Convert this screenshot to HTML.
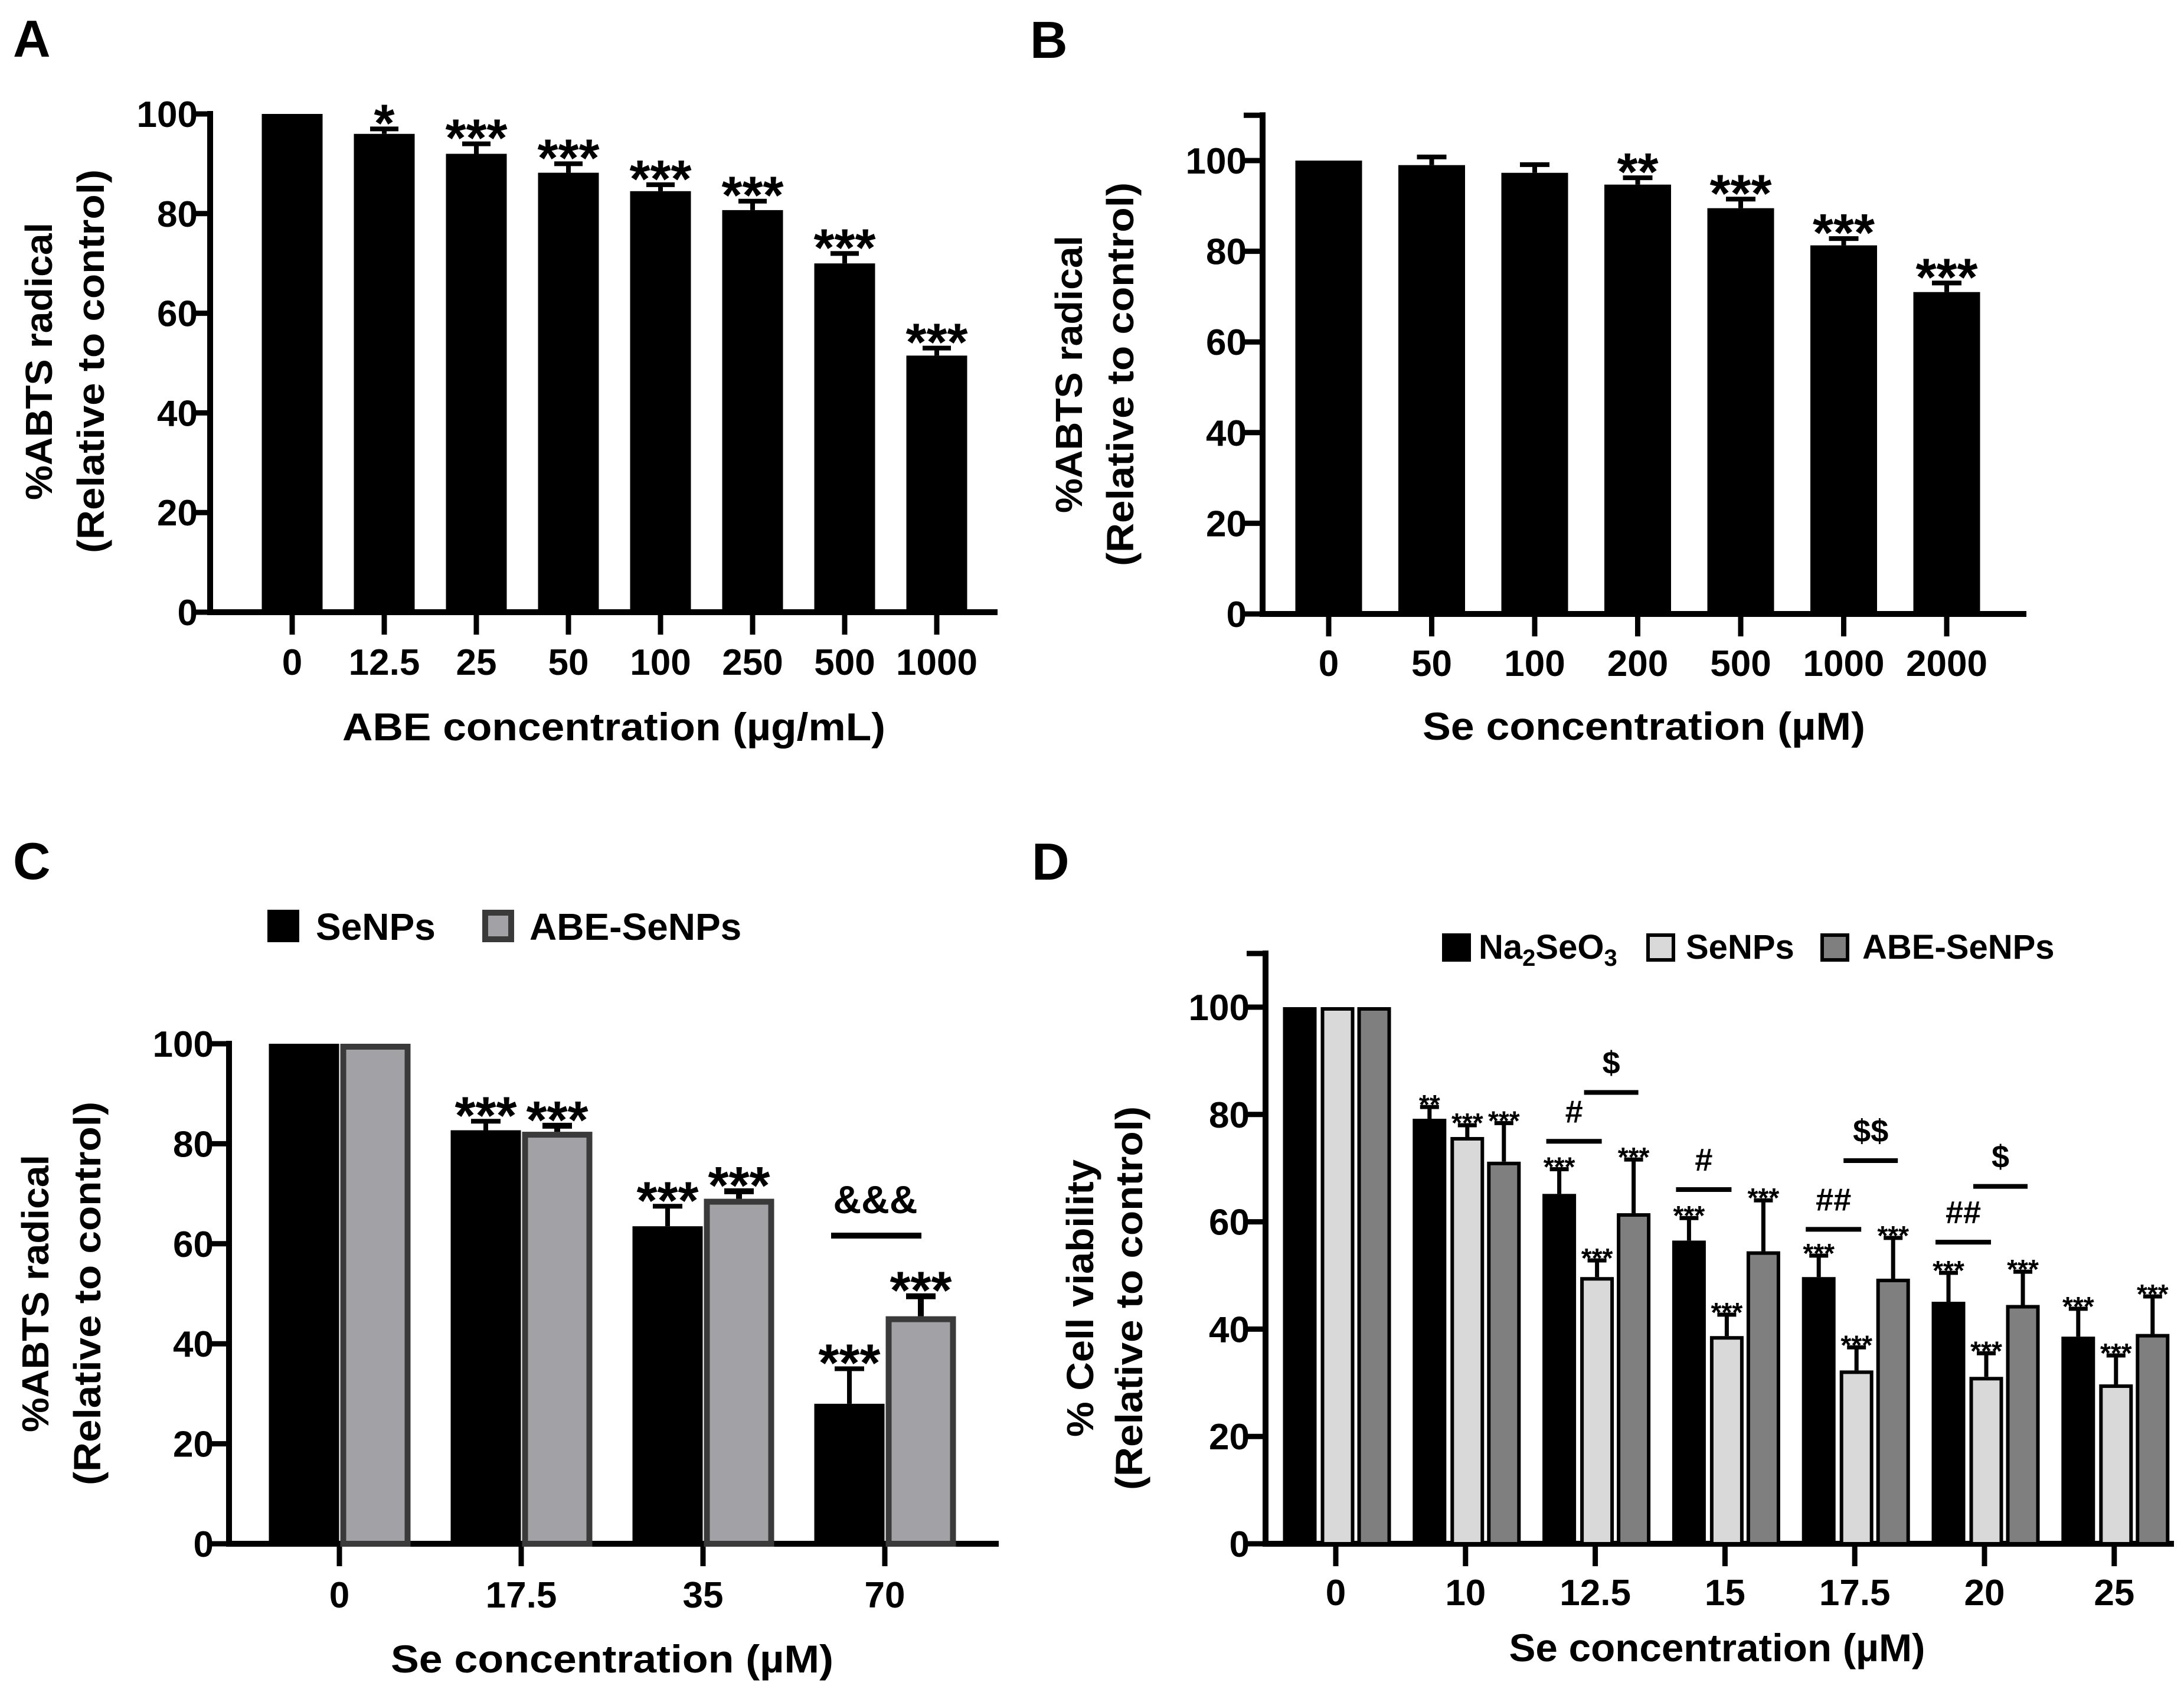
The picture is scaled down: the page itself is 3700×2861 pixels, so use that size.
<!DOCTYPE html>
<html><head><meta charset="utf-8"><style>
html,body{margin:0;padding:0;background:#fff}
svg{display:block}
text{font-family:"Liberation Sans",sans-serif;font-weight:bold;fill:#000}
</style></head><body>
<svg id="fig" xmlns="http://www.w3.org/2000/svg" width="3700" height="2861" viewBox="0 0 3700 2861"></svg>
<script>
// ---------- DATA ----------
const A_cats = ["0","12.5","25","50","100","250","500","1000"];
const A_vals = [100,96,92,88.2,84.5,80.7,70,51.5];
const A_sem  = [0,1,2,1.8,1.3,1.8,2,1.5];
const A_sig  = ["","*","***","***","***","***","***","***"];

const B_cats = ["0","50","100","200","500","1000","2000"];
const B_vals = [100,99,97.3,94.7,89.5,81.3,71];
const B_sem  = [0,1.8,1.8,1.5,2,1.5,2];
const B_sig  = ["","","","**","***","***","***"];

const C_cats = ["0","17.5","35","70"];
const C_senp = [100,82.7,63.5,28];
const C_senp_sem = [0,1.8,4,7];
const C_abe  = [100,82.4,69,45.5];
const C_abe_sem = [0,1.2,1.5,4];
const C_senp_sig = ["","***","***","***"];
const C_abe_sig  = ["","***","***","***"];

const D_cats = ["0","10","12.5","15","17.5","20","25"];
const D_na   = [100,79.2,65.2,56.5,49.7,45.1,38.6];
const D_na_sem = [0,2.2,4.6,4.2,4,5.4,5.2];
const D_se   = [100,75.8,49.7,38.7,32.3,31.1,29.7];
const D_se_sem = [0,2.2,3.1,4,4.3,4.4,5.4];
const D_abe  = [100,71.2,61.6,54.5,49.4,44.5,39.1];
const D_abe_sem = [0,7.2,10,9.5,7.6,6.2,7];
const D_na_sig  = ["","**","***","***","***","***","***"];
const D_se_sig  = ["","***","***","***","***","***","***"];
const D_abe_sig = ["","***","***","***","***","***","***"];
// brackets: group index, series a, series b, y value, label
const D_br_group = [2,2,3,4,4,5,5];
const D_br_a     = [0,1,0,0,1,0,1];
const D_br_b     = [1,2,1,1,2,1,2];
const D_br_val   = [75,84.1,66,58.6,71.4,56.2,66.6];
const D_br_lab   = ["#","$","#","##","$$","##","$"];

const yTicks = [0,20,40,60,80,100];

// ---------- HELPERS ----------
const svg = document.getElementById('fig');
const NS = 'http://www.w3.org/2000/svg';
function mk(tag, attrs, parent){
  const e = document.createElementNS(NS, tag);
  for (const k in attrs) e.setAttribute(k, attrs[k]);
  (parent||svg).appendChild(e);
  return e;
}
function txt(s, attrs, parent){ const e = mk('text', attrs, parent); e.textContent = s; return e; }

function axes(P, g){
  const ys = v => P.y0 - v*(P.y0-P.y100)/100;
  const ax = mk('line',{x1:P.x0,y1:ys(P.top)-5,x2:P.x0,y2:P.y0+5,stroke:'#000','stroke-width':10},g);
  
  
  const xx = mk('line',{x1:P.x0-5,y1:P.y0,x2:P.xEnd,y2:P.y0,stroke:'#000','stroke-width':10},g);
  
  
  const tickVals = P.top>100 ? yTicks.concat([P.top]) : yTicks;
  tickVals.forEach(v=>{
    const t = mk('line',{x1:P.x0-32,y1:ys(v),x2:P.x0,y2:ys(v),stroke:'#000','stroke-width':9},g);
    
    
    if (v<=100){
      const l = txt(String(v),{x:P.yLabX,y:ys(v)+22,'text-anchor':'end','font-size':62},g);
      
      
    }
  });
  P.cats.forEach((c,i)=>{
    const cx = P.cx(i);
    const t = mk('line',{x1:cx,y1:P.y0,x2:cx,y2:P.y0+38,stroke:'#000','stroke-width':9},g);
    
    
    const l = txt(c,{x:cx,y:P.xLabY,'text-anchor':'middle','font-size':62},g);
    
    
  });
  const xt = txt(P.xTitle,{x:P.xTitleX,y:P.xTitleY,'text-anchor':'middle','font-size':66,textLength:P.xTitleW,lengthAdjust:'spacingAndGlyphs'},g);
  
  
  P.yTitle.forEach((s,k)=>{
    const x = P.yTitleX[k];
    const t = txt(s,{x:x,y:P.yTitleY,'text-anchor':'middle','font-size':64,transform:`rotate(-90 ${x} ${P.yTitleY})`,textLength:P.yTitleW[k],lengthAdjust:'spacingAndGlyphs'},g);
    
    
  });
  const L = txt(P.letter,{x:P.letX,y:P.letY,'font-size':88},g);
  
  
  return ys;
}

function bar(g, ys, cx, w, v, sem, fill, stroke, sw, sig, sigSize, sigOff, capW, name){
  const top = ys(v), bot = ys(0);
  const r = mk('rect',{x:cx-w/2+sw/2,y:top+sw/2,width:w-sw,height:bot-top-sw/2,fill:fill,stroke:stroke,'stroke-width':sw},g);
  
  
  let errTop = top;
  if (sem>0){
    errTop = ys(v+sem);
    const e = mk('path',{d:`M${cx} ${top} V${errTop} M${cx-capW/2} ${errTop} H${cx+capW/2}`,stroke:'#000','stroke-width':sw>0?Math.max(sw,7):8,fill:'none'},g);
    
    
  }
  if (sig){
    const s = txt(sig,{x:cx,y:errTop+sigOff,'text-anchor':'middle','font-size':sigSize},g);
    
    
  }
}

// ---------- PANEL A ----------
(function(){
  const g = mk('g',{});  
  const P = {x0:356,y0:1037,y100:193,top:100,xEnd:1690,cats:A_cats,cx:i=>495+i*156,yLabX:335,xLabY:1143,
    xTitle:'ABE concentration (µg/mL)',xTitleX:1040,xTitleY:1254,xTitleW:920,
    yTitle:['%ABTS radical','(Relative to control)'],yTitleX:[88,176],yTitleY:612,yTitleW:[470,650],
    letter:'A',letX:22,letY:96};
  const ys = axes(P,g);
  A_vals.forEach((v,i)=>bar(g,ys,P.cx(i),103,v,A_sem[i],'#000','#000',0,A_sig[i],90,21,48,'bar-abe-'+A_cats[i]));
})();

// ---------- PANEL B ----------
(function(){
  const g = mk('g',{});  
  const P = {x0:2139,y0:1040,y100:272,top:110,xEnd:3433,cats:B_cats,cx:i=>2251+i*174.5,yLabX:2112,xLabY:1145,
    xTitle:'Se concentration (µM)',xTitleX:2785,xTitleY:1253,xTitleW:750,
    yTitle:['%ABTS radical','(Relative to control)'],yTitleX:[1833,1920],yTitleY:634,yTitleW:[470,650],
    letter:'B',letX:1745,letY:98};
  const ys = axes(P,g);
  B_vals.forEach((v,i)=>bar(g,ys,P.cx(i),113,v,B_sem[i],'#000','#000',0,B_sig[i],90,21,50,'bar-se-'+B_cats[i]));
})();

// ---------- PANEL C ----------
(function(){
  const g = mk('g',{});  
  const P = {x0:388,y0:2615,y100:1768,top:100,xEnd:1692,cats:C_cats,cx:i=>575+i*308,yLabX:362,xLabY:2723,
    xTitle:'Se concentration (µM)',xTitleX:1037,xTitleY:2833,xTitleW:750,
    yTitle:['%ABTS radical','(Relative to control)'],yTitleX:[82,170],yTitleY:2191,yTitleW:[470,650],
    letter:'C',letX:22,letY:1489};
  const ys = axes(P,g);
  C_cats.forEach((c,i)=>{
    const cx = P.cx(i);
    bar(g,ys,cx-60,119,C_senp[i],C_senp_sem[i],'#000','#000',0,C_senp_sig[i],90,21,50,'bar-senps-'+c);
    bar(g,ys,cx+61,119,C_abe[i],C_abe_sem[i],'#a2a2a6','#3a3a3a',10,C_abe_sig[i],90,21,50,'bar-abe-senps-'+c);
  });
  const last = C_cats.length-1, bx = P.cx(last);
  const bl = mk('line',{x1:bx-91,y1:2093,x2:bx+62,y2:2093,stroke:'#000','stroke-width':10},g);
  
  
  const bt = txt('&&&',{x:bx-16,y:2055,'text-anchor':'middle','font-size':66},g);
  
  
  const s1 = mk('rect',{x:453,y:1541,width:54,height:55,fill:'#000'},g);
  
  
  const t1 = txt('SeNPs',{x:535,y:1592,'font-size':64},g);
  
  
  const s2 = mk('rect',{x:822,y:1546,width:44,height:45,fill:'#a2a2a6',stroke:'#3a3a3a','stroke-width':10},g);
  
  
  const t2 = txt('ABE-SeNPs',{x:897,y:1592,'font-size':64},g);
  
  
})();

// ---------- PANEL D ----------
(function(){
  const g = mk('g',{});  
  const P = {x0:2144,y0:2615,y100:1706,top:110,xEnd:3683,cats:D_cats,cx:i=>2263+i*219.8,yLabX:2117,xLabY:2719,
    xTitle:'Se concentration (µM)',xTitleX:2909,xTitleY:2814,xTitleW:705,
    yTitle:['% Cell viability','(Relative to control)'],yTitleX:[1852,1935],yTitleY:2199,yTitleW:[470,650],
    letter:'D',letX:1748,letY:1490};
  const ys = axes(P,g);
  const offs = [-61,3,65];
  const series = [[D_na,D_na_sem,D_na_sig,'#000','na2seo3'],[D_se,D_se_sem,D_se_sig,'#d9d9d9','senps'],[D_abe,D_abe_sem,D_abe_sig,'#7f7f7f','abe-senps']];
  D_cats.forEach((c,i)=>{
    series.forEach((s,k)=>{
      bar(g,ys,P.cx(i)+offs[k],57,s[0][i],s[1][i],s[3],'#000',6,s[2][i],46,12,32,'bar-'+s[4]+'-'+c);
    });
  });
  D_br_group.forEach((gi,j)=>{
    const xa = P.cx(gi)+offs[D_br_a[j]]-22, xb = P.cx(gi)+offs[D_br_b[j]]+8;
    const y = ys(D_br_val[j]);
    const l = mk('line',{x1:xa,y1:y,x2:xb,y2:y,stroke:'#000','stroke-width':8},g);
    
    
    const t = txt(D_br_lab[j],{x:(xa+xb)/2,y:y-32,'text-anchor':'middle','font-size':54},g);
    
    
  });
  const sw = [[2446,'#000'],[2792,'#d9d9d9'],[3087,'#7f7f7f']];
  const names = ['na2seo3','senps','abe-senps'];
  sw.forEach((s,k)=>{
    const r = mk('rect',{x:s[0],y:1584,width:43,height:42,fill:s[1],stroke:'#000','stroke-width':6},g);
    
    
  });
  const l1 = txt('',{x:2505,y:1624,'font-size':58},g);
  
  
  l1.innerHTML = 'Na<tspan font-size="40" dy="12">2</tspan><tspan dy="-12">SeO</tspan><tspan font-size="40" dy="12">3</tspan>';
  const l2 = txt('SeNPs',{x:2856,y:1624,'font-size':58},g);
  
  
  const l3 = txt('ABE-SeNPs',{x:3155,y:1624,'font-size':58},g);
  
  
})();
</script>
</body></html>
